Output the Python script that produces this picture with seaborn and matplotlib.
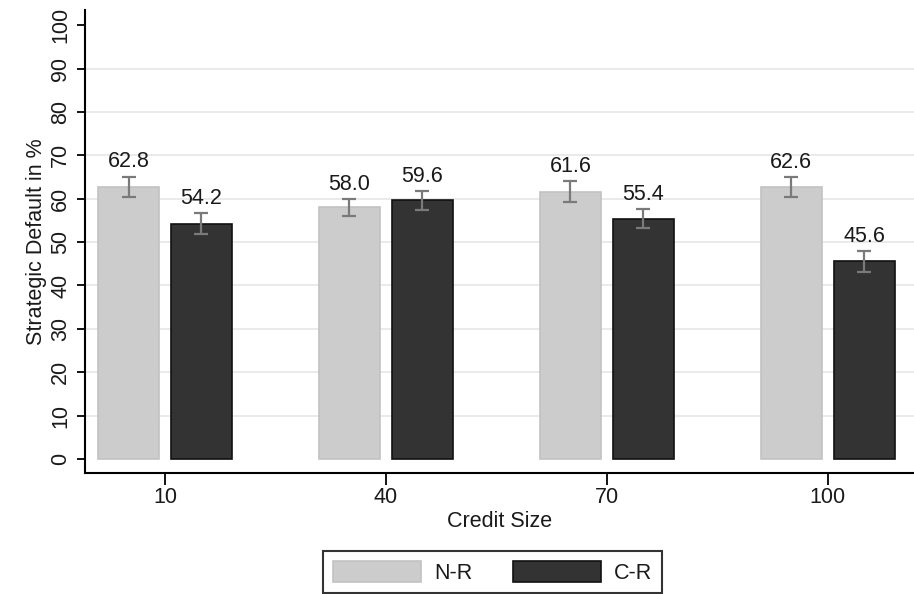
import matplotlib
matplotlib.use("Agg")
import matplotlib.pyplot as plt
import seaborn as sns
import pandas as pd
import numpy as np

# Strategic default rates by credit size and treatment
credit_sizes = ["10", "40", "70", "100"]
treatments = ["N-R", "C-R"]
nr_values = [62.8, 58.0, 61.6, 62.6]
cr_values = [54.2, 59.6, 55.4, 45.6]
nr_errors = [2.3, 2.0, 2.4, 2.3]
cr_errors = [2.4, 2.2, 2.2, 2.4]
y_ticks = [0, 10, 20, 30, 40, 50, 60, 70, 80, 90, 100]

df = pd.DataFrame({
    "Credit Size": credit_sizes * 2,
    "Treatment": [treatments[0]] * 4 + [treatments[1]] * 4,
    "Default": nr_values + cr_values,
    "Err": nr_errors + cr_errors,
})

sns.set_theme(style="white")
plt.rcParams["font.family"] = ["Liberation Sans", "DejaVu Sans"]

fig = plt.figure(figsize=(9.14, 5.94), dpi=100)
ax = fig.add_axes([0.093, 0.204, 0.907, 0.779])

palette = {"N-R": "#cccccc", "C-R": "#333333"}
sns.barplot(data=df, x="Credit Size", y="Default", hue="Treatment",
            order=credit_sizes, hue_order=treatments, palette=palette,
            width=0.66, gap=0.165, errorbar=None, ax=ax, legend=False,
            zorder=3)

edge_colors = {"N-R": "#c2c2c2", "C-R": "#111111"}
err_lists = {"N-R": nr_errors, "C-R": cr_errors}
val_lists = {"N-R": nr_values, "C-R": cr_values}
for container, name in zip(ax.containers, treatments):
    for patch, val, err in zip(container.patches, val_lists[name], err_lists[name]):
        patch.set_edgecolor(edge_colors[name])
        patch.set_linewidth(1.2)
        cx = patch.get_x() + patch.get_width() / 2
        ax.errorbar(cx, val, yerr=err, fmt="none", ecolor="#7a7a7a",
                    elinewidth=1.6, capsize=5, capthick=1.6, zorder=4)
        ax.annotate(f"{val:.1f}", (cx, val + err), xytext=(0, 3),
                    textcoords="offset points", ha="center", va="bottom",
                    fontsize=15.5, color="#1a1a1a")

ax.set_xlim(-0.362, 3.39)
ax.set_ylim(-3.2, 103.5)
ax.set_yticks(y_ticks)
ax.set_yticklabels([str(t) for t in y_ticks], rotation=90, va="center")
for t in y_ticks[1:-1]:
    ax.axhline(t, color="#e6e6e6", lw=1.2, zorder=0)

for s in ["top", "right"]:
    ax.spines[s].set_visible(False)
for s in ["left", "bottom"]:
    ax.spines[s].set_color("#000000")
    ax.spines[s].set_linewidth(1.5)

ax.tick_params(axis="both", which="major", direction="out",
               width=1.3, color="#000000", labelsize=15.5,
               labelcolor="#1a1a1a", left=True, bottom=True)
ax.tick_params(axis="y", length=6, pad=4)
ax.tick_params(axis="x", length=8.5, pad=2)

ax.set_xlabel("Credit Size", fontsize=15.5, color="#1a1a1a", labelpad=2)
ax.set_ylabel("Strategic Default in %", fontsize=15.5, color="#1a1a1a",
              labelpad=2)

handles = [plt.Rectangle((0, 0), 1, 1, facecolor=palette[t],
                         edgecolor=edge_colors[t], linewidth=1.2)
           for t in treatments]
leg = fig.legend(handles, treatments, loc="upper left",
                 bbox_to_anchor=(323 / 914, 1 - 551 / 594), ncol=2,
                 fontsize=15.5, frameon=True, fancybox=False,
                 handlelength=4.1, handleheight=1.15, handletextpad=0.6,
                 columnspacing=1.9, borderpad=0.45, borderaxespad=0)
leg.get_frame().set_edgecolor("#000000")
leg.get_frame().set_linewidth(1.5)
for txt in leg.get_texts():
    txt.set_color("#1a1a1a")

fig.savefig("out.png", dpi=100)
